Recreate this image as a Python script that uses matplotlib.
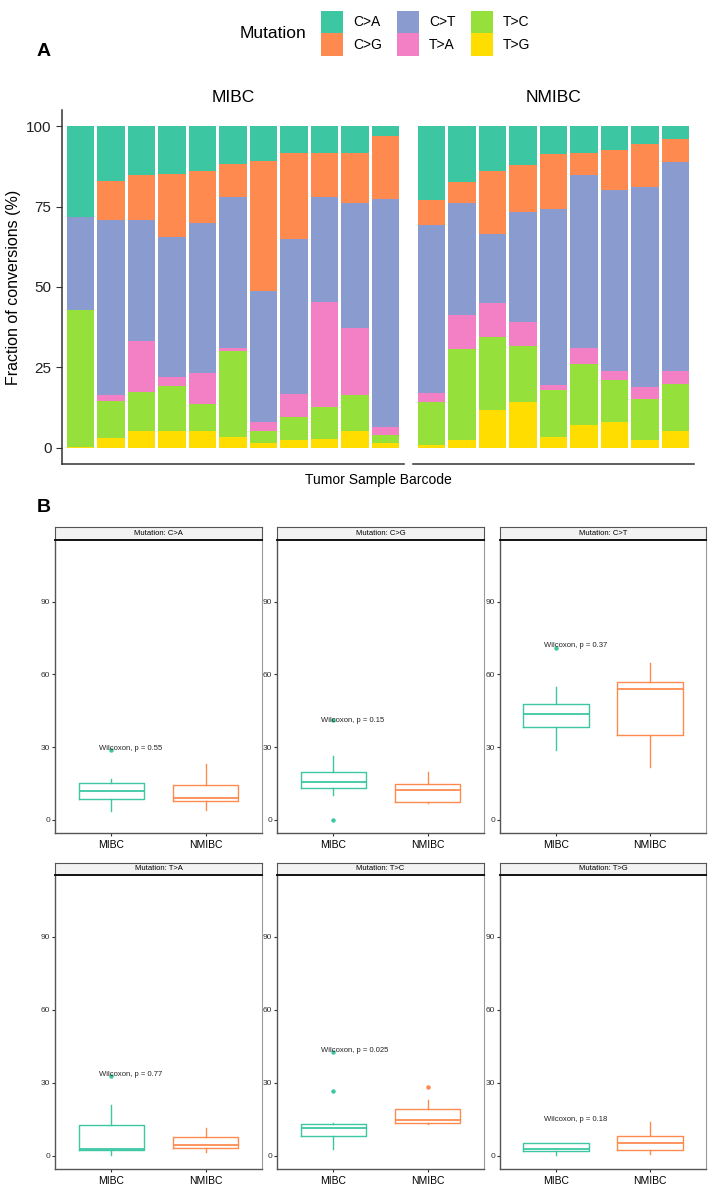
import matplotlib
matplotlib.use("Agg")
import matplotlib.pyplot as plt
from matplotlib.patches import Patch

plt.rcParams['font.family'] = ['Liberation Sans', 'DejaVu Sans']

# ---- data -------------------------------------------------------------
mutations = ['C>A', 'C>G', 'C>T', 'T>A', 'T>C', 'T>G']
colors = ['#3CC7A2', '#FF8A4F', '#8A9BD0', '#F37FC4', '#95E03A', '#FFDD00']
stack_order = ['T>G', 'T>C', 'T>A', 'C>T', 'C>G', 'C>A']  # bottom -> top

mibc_CA = [28.3, 17.0, 15.1, 14.9, 14.1, 11.8, 10.8, 8.5, 8.5, 8.5, 3.1]
mibc_CG = [0.0, 12.2, 14.1, 19.5, 16.1, 10.3, 40.3, 26.7, 13.4, 15.5, 19.7]
mibc_CT = [28.8, 54.5, 37.5, 43.6, 46.6, 46.9, 40.9, 48.2, 32.8, 38.8, 70.8]
mibc_TA = [0.0, 1.8, 15.8, 2.9, 9.5, 0.8, 2.6, 7.0, 32.6, 20.9, 2.3]
mibc_TC = [42.6, 11.4, 12.3, 13.9, 8.5, 26.7, 4.0, 7.1, 9.8, 11.1, 2.7]
mibc_TG = [0.3, 3.1, 5.2, 5.2, 5.2, 3.5, 1.4, 2.5, 2.9, 5.2, 1.4]

nmibc_CA = [23.0, 17.3, 14.1, 12.0, 8.7, 8.3, 7.5, 5.5, 4.0]
nmibc_CG = [7.8, 6.5, 19.5, 14.7, 17.1, 6.9, 12.4, 13.5, 7.3]
nmibc_CT = [52.1, 34.8, 21.4, 34.2, 54.8, 53.7, 56.3, 62.1, 64.8]
nmibc_TA = [2.8, 10.7, 10.4, 7.5, 1.5, 5.1, 2.8, 3.6, 4.0]
nmibc_TC = [13.5, 28.2, 22.8, 17.4, 14.6, 18.8, 13.0, 12.9, 14.5]
nmibc_TG = [0.8, 2.5, 11.8, 14.2, 3.3, 7.2, 8.0, 2.4, 5.4]

mibc = dict(zip(mutations, [mibc_CA, mibc_CG, mibc_CT, mibc_TA, mibc_TC, mibc_TG]))
nmibc = dict(zip(mutations, [nmibc_CA, nmibc_CG, nmibc_CT, nmibc_TA, nmibc_TC, nmibc_TG]))

# box stats per mutation: [whisker low, q1, median, q3, whisker high]
box_mibc = [[3.4, 8.5, 12.0, 15.1, 16.9],
            [10.3, 12.9, 15.7, 19.5, 26.4],
            [28.9, 38.1, 43.7, 47.7, 54.6],
            [0.4, 2.2, 2.9, 12.7, 20.9],
            [2.7, 7.9, 11.2, 13.0, 13.6],
            [0.3, 1.8, 2.9, 5.0, 5.0]]
box_nmibc = [[4.1, 7.8, 8.8, 14.2, 23.1],
             [6.9, 7.3, 12.2, 14.6, 19.5],
             [21.6, 34.9, 54.1, 56.7, 64.9],
             [1.6, 3.1, 4.2, 7.5, 11.2],
             [13.2, 13.6, 14.6, 19.0, 22.9],
             [0.7, 2.2, 5.2, 7.9, 13.9]]
out_mibc = [[28.7], [0.0, 41.0], [71.0], [32.7], [26.5, 42.7], []]
out_nmibc = [[], [], [], [], [28.2], []]
pvals = ['0.55', '0.15', '0.37', '0.77', '0.025', '0.18']
label_y = [29.3, 41.1, 71.8, 33.4, 43.4, 14.7]
groups = ['MIBC', 'NMIBC']

W, H = 716, 1190
fig = plt.figure(figsize=(W / 100, H / 100), dpi=100)


def rect(x0, y0, x1, y1):
    return [x0 / W, 1 - y1 / H, (x1 - x0) / W, (y1 - y0) / H]


# ---- panel A ----------------------------------------------------------
axA1 = fig.add_axes(rect(62, 110, 404, 464))
axA2 = fig.add_axes(rect(413, 110, 694, 464))
for ax, data, title in [(axA1, mibc, 'MIBC'), (axA2, nmibc, 'NMIBC')]:
    n = len(data['C>A'])
    xs = list(range(1, n + 1))
    bottom = [0.0] * n
    for m in stack_order:
        vals = data[m]
        ax.bar(xs, vals, bottom=bottom, width=0.9, color=colors[mutations.index(m)],
               edgecolor='none')
        bottom = [b + v for b, v in zip(bottom, vals)]
    ax.set_xlim(0.4, n + 0.6)
    ax.set_ylim(-5, 105)
    ax.set_xticks([])
    for s in ['top', 'right']:
        ax.spines[s].set_visible(False)
    ax.spines['bottom'].set_color('#333333')
    ax.spines['bottom'].set_linewidth(1.1)
    ax.set_title(title, fontsize=12.5, pad=6)

axA1.set_yticks([0, 25, 50, 75, 100])
axA1.tick_params(axis='y', labelsize=11, length=4, color='#333333', labelcolor='#222222')
axA1.spines['left'].set_color('#333333')
axA1.spines['left'].set_linewidth(1.1)
axA1.set_ylabel('Fraction of conversions (%)', fontsize=11.5, labelpad=4)
axA2.spines['left'].set_visible(False)
axA2.set_yticks([])
fig.text(378 / W, 1 - 480 / H, 'Tumor Sample Barcode', ha='center', va='center', fontsize=10)

fig.text(37 / W, 1 - 52 / H, 'A', fontsize=14, fontweight='bold', va='center')
fig.text(306 / W, 1 - 33 / H, 'Mutation', fontsize=12.5, ha='right', va='center')
handles = [Patch(facecolor=c, edgecolor='none', label=m) for m, c in zip(mutations, colors)]
fig.legend(handles=handles, ncol=3, loc='center left', bbox_to_anchor=(314 / W, 1 - 33 / H),
           frameon=False, fontsize=10, handlelength=1.6, handleheight=2.1,
           labelspacing=0.02, columnspacing=1.1, handletextpad=0.7, borderpad=0)

# ---- panel B ----------------------------------------------------------
fig.text(37 / W, 1 - 508 / H, 'B', fontsize=14, fontweight='bold', va='center')
cols = [(55, 262), (277, 484), (500, 706)]
rows = [(527, 540, 833), (863, 875, 1169)]
for i, m in enumerate(mutations):
    r, c = divmod(i, 3)
    x0, x1 = cols[c]
    s0, p0, p1 = rows[r]
    st = fig.add_axes(rect(x0, s0, x1, p0))
    st.set_facecolor('#F2F2F2')
    st.set_xticks([])
    st.set_yticks([])
    for sp in st.spines.values():
        sp.set_color('#555555')
        sp.set_linewidth(0.8)
    st.text(0.5, 0.5, 'Mutation: ' + m, ha='center', va='center', fontsize=5.5,
            transform=st.transAxes)

    ax = fig.add_axes(rect(x0, p0, x1, p1))
    for j, (box, outl, col) in enumerate([(box_mibc[i], out_mibc[i], colors[0]),
                                           (box_nmibc[i], out_nmibc[i], colors[1])]):
        stats = [dict(whislo=box[0], q1=box[1], med=box[2], q3=box[3], whishi=box[4],
                      fliers=outl)]
        ax.bxp(stats, positions=[j + 1], widths=0.7, showcaps=False, manage_ticks=False,
               boxprops=dict(color=col, linewidth=1.0),
               whiskerprops=dict(color=col, linewidth=1.0),
               medianprops=dict(color=col, linewidth=1.3),
               flierprops=dict(marker='o', markersize=2.2, markerfacecolor=col,
                               markeredgecolor=col))
    ax.text(0.87, label_y[i], 'Wilcoxon, p = ' + pvals[i], fontsize=5.5, va='center',
            ha='left', color='#222222')
    ax.set_xlim(0.4, 2.6)
    ax.set_ylim(-5.5, 115.5)
    ax.set_yticks([0, 30, 60, 90])
    ax.set_xticks([1, 2])
    ax.set_xticklabels(groups)
    ax.tick_params(axis='y', labelsize=6, length=2, color='#333333', labelcolor='#333333', pad=1.5)
    ax.tick_params(axis='x', labelsize=7.5, length=2, color='#333333', pad=3)
    ax.spines['top'].set_color('#111111')
    ax.spines['top'].set_linewidth(1.4)
    ax.spines['right'].set_color('#999999')
    for s in ['left', 'bottom']:
        ax.spines[s].set_color('#555555')
        ax.spines[s].set_linewidth(1.0)

fig.savefig('out.png', dpi=100)
